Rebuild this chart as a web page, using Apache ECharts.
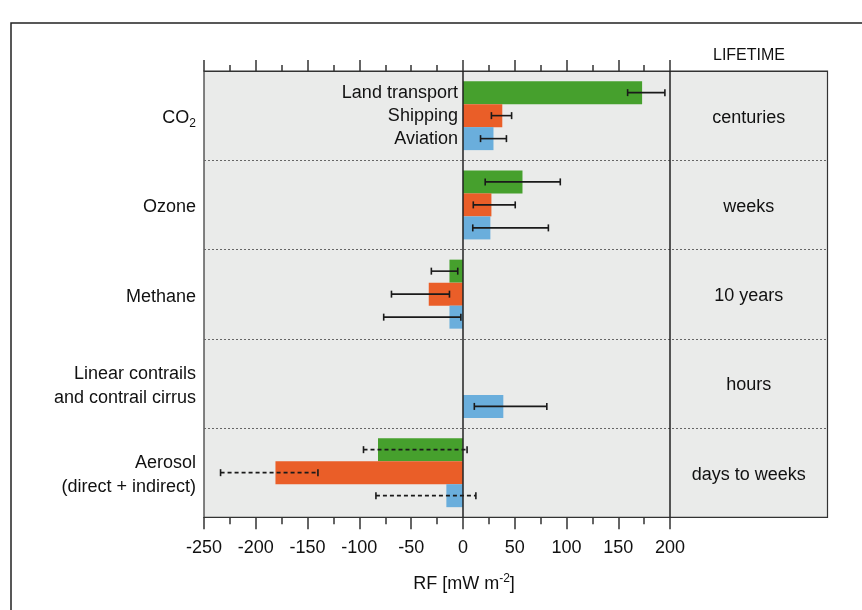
<!DOCTYPE html>
<html><head><meta charset="utf-8">
<script src="https://cdn.jsdelivr.net/npm/echarts@6/dist/echarts.min.js"></script>
<style>html,body{margin:0;padding:0;background:#fff}#c{width:862px;height:610px}</style>
</head><body><div id="c"></div>
<script>
const categories = ['CO2', 'Ozone', 'Methane', 'Linear contrails\nand contrail cirrus', 'Aerosol\n(direct + indirect)'];
const lifetimes = ['centuries', 'weeks', '10 years', 'hours', 'days to weeks'];
const seriesNames = ['Land transport', 'Shipping', 'Aviation'];
const landTransport = [173, 57.5, -13, null, -82];
const shipping = [38, 27.5, -33, null, -181];
const aviation = [29.5, 26.5, -13, 39, -16];
const landErr = [[159, 195], [21.5, 94], [-30.5, -5], null, [-96, 4]];
const shipErr = [[27.5, 47], [10, 50.5], [-69, -13], null, [-234, -140]];
const aviaErr = [[17, 42], [9.5, 82.5], [-76.5, -2], [11, 81], [-84, 12.5]];
const dashedCats = [4];
const xTicksMajor = [-250, -200, -150, -100, -50, 0, 50, 100, 150, 200];
const xTicksMinor = [-225, -175, -125, -75, -25, 25, 75, 125, 175];
const topTicksMajor = [-250, -200, -150, -100, 0, 50, 100, 150, 200];
const topTicksMinor = [-225, -175, -125, -75, -50, -25, 25, 75, 125, 175];
const xMin = -250, xMax = 352;

const FONT = 'Liberation Sans';
const TXT = '#111';
const BAR_W = 23;
const colors = ['#46a02d', '#ea5e28', '#6aaedc'];

const chart = echarts.init(document.getElementById('c'), null, {renderer: 'canvas'});

function barSeries(vals, k) {
  return {
    type: 'bar', name: seriesNames[k], xAxisIndex: 0, yAxisIndex: 0,
    barWidth: BAR_W, barGap: '0%',
    itemStyle: {color: colors[k]},
    label: {show: false, position: 'left', distance: 5, formatter: '{a}', fontFamily: FONT, fontSize: 18, color: TXT},
    data: vals.map((v, i) => i === 0 ? {value: v, label: {show: true}} : v),
    z: 2
  };
}

function errSeries(errs, k) {
  const data = [];
  errs.forEach((e, i) => { if (e) data.push([i, e[0], e[1], dashedCats.includes(i) ? 1 : 0]); });
  return {
    type: 'custom', name: seriesNames[k] + ' range', xAxisIndex: 0, yAxisIndex: 0, z: 5, silent: true,
    encode: {x: [1, 2], y: 0},
    data: data,
    renderItem: function (params, api) {
      const cat = api.value(0);
      const c = api.coord([0, cat]);
      const y = c[1] + (k - 1) * BAR_W;
      const x1 = api.coord([api.value(1), cat])[0];
      const x2 = api.coord([api.value(2), cat])[0];
      const dashed = api.value(3) === 1;
      const st = {stroke: '#1a1a1a', lineWidth: 1.6};
      const mst = dashed ? {stroke: '#1a1a1a', lineWidth: 1.6, lineDash: [4, 3]} : st;
      return {type: 'group', children: [
        {type: 'line', shape: {x1: x1, y1: y, x2: x2, y2: y}, style: mst},
        {type: 'line', shape: {x1: x1, y1: y - 3.5, x2: x1, y2: y + 3.5}, style: st},
        {type: 'line', shape: {x1: x2, y1: y - 3.5, x2: x2, y2: y + 3.5}, style: st}
      ]};
    }
  };
}

const lifeX = (200 + xMax) / 2;

const tickStyle = {color: '#333', width: 1.5};
const borderLine = {show: true, lineStyle: {color: '#333', width: 1.2}};

const option = {
  animation: false,
  textStyle: {fontFamily: FONT},
  grid: {left: 204, right: 34.5, top: 71, bottom: 92.7, show: true, backgroundColor: '#eaebea', borderColor: '#333', borderWidth: 1.2},
  xAxis: [
    {type: 'value', position: 'bottom', min: xMin, max: xMax, interval: 50, z: 4,
     axisLine: borderLine, splitLine: {show: false},
     axisTick: {show: true, length: 12, lineStyle: tickStyle, customValues: xTicksMajor},
     axisLabel: {show: true, customValues: xTicksMajor, fontFamily: FONT, fontSize: 18, color: TXT, margin: 22}},
    {type: 'value', position: 'bottom', min: xMin, max: xMax, gridIndex: 0, z: 4,
     axisLine: {show: false}, splitLine: {show: false}, axisLabel: {show: false},
     axisTick: {show: true, length: 7, lineStyle: tickStyle, customValues: xTicksMinor}},
    {type: 'value', position: 'top', min: xMin, max: xMax, gridIndex: 0, z: 4,
     axisLine: borderLine, splitLine: {show: false}, axisLabel: {show: false},
     axisTick: {show: true, length: 11, lineStyle: tickStyle, customValues: topTicksMajor}},
    {type: 'value', position: 'top', min: xMin, max: xMax, gridIndex: 0, z: 4,
     axisLine: {show: false}, splitLine: {show: false}, axisLabel: {show: false},
     axisTick: {show: true, length: 6, lineStyle: tickStyle, customValues: topTicksMinor}}
  ],
  yAxis: {
    type: 'category', data: categories, inverse: true,
    axisLine: {show: false}, axisTick: {show: false},
    splitLine: {show: true, lineStyle: {color: '#666', width: 1, type: [2, 2]}},
    axisLabel: {
      fontFamily: FONT, fontSize: 18, color: TXT, margin: 8, lineHeight: 24, align: 'right', padding: [5, 0, 0, 0],
      formatter: function (v) { return v === 'CO2' ? 'CO{sub|2}' : v; },
      rich: {sub: {fontFamily: FONT, fontSize: 12, color: TXT, verticalAlign: 'bottom', lineHeight: 12}}
    }
  },
  series: [
    Object.assign(barSeries(landTransport, 0), {
      markLine: {silent: true, symbol: ['none', 'none'], label: {show: false},
        lineStyle: {color: '#222', width: 1.5, type: 'solid'},
        data: [{xAxis: 0}, {xAxis: 200}]}
    }),
    barSeries(shipping, 1),
    barSeries(aviation, 2),
    errSeries(landErr, 0),
    errSeries(shipErr, 1),
    errSeries(aviaErr, 2),
    {type: 'scatter', name: 'Lifetime', xAxisIndex: 0, yAxisIndex: 0, symbolSize: 0, silent: true,
     itemStyle: {opacity: 1},
     data: categories.map((c, i) => [lifeX, i]),
     label: {show: true, position: 'inside', offset: [0, 2], formatter: p => lifetimes[p.dataIndex], fontFamily: FONT, fontSize: 18, color: TXT, opacity: 1}}
  ],
  graphic: [
    {type: 'rect', silent: true, shape: {x: 11, y: 23, width: 900, height: 700}, style: {fill: 'none', stroke: '#222', lineWidth: 1.5}},
    {type: 'text', silent: true, style: {x: 749, y: 56, text: 'LIFETIME', align: 'center', verticalAlign: 'middle', fontFamily: FONT, fontSize: 16, fill: TXT}},
    {type: 'text', silent: true, style: {x: 464, y: 584, text: 'RF [mW m{sup|-2}]', align: 'center', verticalAlign: 'middle', fontFamily: FONT, fontSize: 18, fill: TXT, lineHeight: 22,
      rich: {sup: {fontFamily: FONT, fontSize: 12, fill: TXT, verticalAlign: 'top', lineHeight: 12}}}}
  ]
};
chart.setOption(option);
</script>
</body></html>
